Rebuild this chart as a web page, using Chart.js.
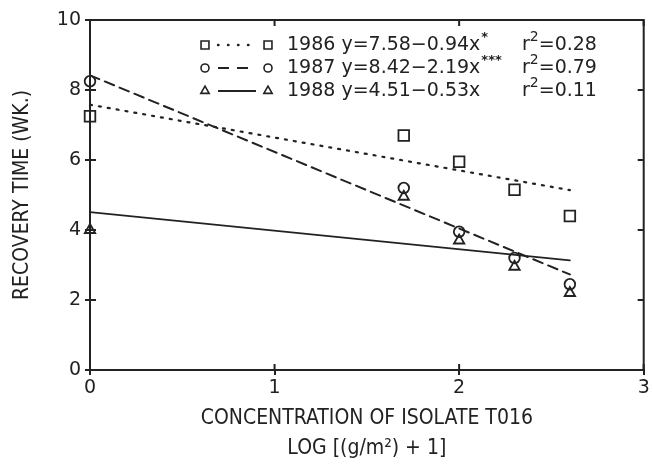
<!DOCTYPE html>
<html>
<head>
<meta charset="utf-8">
<script src="https://cdn.jsdelivr.net/npm/chart.js@4/dist/chart.umd.min.js"></script>
<style>
  body { margin: 0; background: #fff; }
  #grafico { display: block; }
</style>
</head>
<body>
<canvas id="grafico" width="653" height="468"></canvas>
<script>
// Datos
const concentraciones = [0, 1.7, 2.0, 2.3, 2.6];
const recuperacion1986 = [7.25, 6.7, 5.95, 5.15, 4.4];
const recuperacion1987 = [8.25, 5.2, 3.95, 3.2, 2.45];
const recuperacion1988 = [4.0, 4.95, 3.7, 2.95, 2.2];

// Rectas de regresion (extremos)
const extremosX = [0, 2.6];
const recta1986 = [7.58, 5.14];
const recta1987 = [8.42, 2.73];
const recta1988 = [4.51, 3.13];

const anios = ['1986', '1987', '1988'];
const ecuaciones = ['y=7.58\u22120.94x', 'y=8.42\u22122.19x', 'y=4.51\u22120.53x'];
const significancia = ['*', '***', ''];
const valoresR2 = ['=0.28', '=0.79', '=0.11'];
const simbolos = ['rect', 'circle', 'triangle'];
const estilosLinea = [[2, 7], [10, 6], []];
const estilosLeyenda = [[0.5, 9.5], [11, 8], []];

const ticksX = [0, 1, 2, 3];
const ticksY = [0, 2, 4, 6, 8, 10];

const TINTA = '#222';
const FUENTE = 'DejaVu Sans';
const FUENTE_TITULO = "'Liberation Sans Narrow', 'DejaVu Sans Condensed', sans-serif";

const puntos = (ys) => concentraciones.map((x, i) => ({ x: x, y: ys[i] }));
const recta = (ys) => extremosX.map((x, i) => ({ x: x, y: ys[i] }));

function serieMarcas(ys, simbolo, radio) {
    return {
        data: puntos(ys),
        showLine: false,
        clip: false,
        pointStyle: simbolo,
        pointRadius: radio,
        pointBorderWidth: 1.8,
        pointBorderColor: TINTA,
        pointBackgroundColor: 'rgba(0,0,0,0)'
    };
}

function serieRecta(ys, guiones, ancho) {
    return {
        data: recta(ys),
        showLine: true,
        pointRadius: 0,
        borderColor: TINTA,
        borderWidth: ancho,
        borderDash: guiones,
        borderCapStyle: 'round',
        fill: false
    };
}

// Marco con marcas hacia adentro
const marco = {
    id: 'marco',
    afterDatasetsDraw(chart) {
        const { ctx, chartArea: a, scales } = chart;
        ctx.save();
        ctx.strokeStyle = TINTA;
        ctx.lineWidth = 2;
        ctx.strokeRect(a.left, a.top, a.right - a.left, a.bottom - a.top);
        ctx.beginPath();
        ticksX.forEach(v => {
            const px = scales.x.getPixelForValue(v);
            ctx.moveTo(px, a.bottom); ctx.lineTo(px, a.bottom - 6);
            ctx.moveTo(px, a.top); ctx.lineTo(px, a.top + 6);
        });
        ticksY.forEach(v => {
            const py = scales.y.getPixelForValue(v);
            ctx.moveTo(a.left, py); ctx.lineTo(a.left + 6, py);
            ctx.moveTo(a.right, py); ctx.lineTo(a.right - 6, py);
        });
        ctx.stroke();
        ctx.restore();
    }
};

function dibujarSimbolo(ctx, simbolo, x, y, r) {
    ctx.save();
    ctx.fillStyle = 'rgba(0,0,0,0)';
    ctx.strokeStyle = TINTA;
    ctx.lineWidth = 1.6;
    Chart.helpers.drawPoint(ctx, { pointStyle: simbolo, rotation: 0, radius: r, borderWidth: 1.6 }, x, y);
    ctx.restore();
}

// Leyenda con ecuaciones
const leyenda = {
    id: 'leyendaEcuaciones',
    afterDraw(chart) {
        const { ctx, chartArea: a } = chart;
        const x0 = a.left + 115;
        const y0 = a.top + 25;
        const paso = 23;
        const radios = [5.6, 4, 4.8];
        ctx.save();
        ctx.strokeStyle = TINTA;
        ctx.fillStyle = TINTA;
        ctx.textBaseline = 'middle';
        anios.forEach((anio, i) => {
            const y = y0 + i * paso;
            dibujarSimbolo(ctx, simbolos[i], x0, y, radios[i]);
            dibujarSimbolo(ctx, simbolos[i], x0 + 63, y, radios[i]);
            ctx.beginPath();
            ctx.lineWidth = i === 0 ? 2.4 : 2;
            ctx.lineCap = i === 0 ? 'round' : 'butt';
            ctx.setLineDash(estilosLeyenda[i]);
            ctx.moveTo(x0 + 13, y);
            ctx.lineTo(x0 + 51, y);
            ctx.stroke();
            ctx.setLineDash([]);

            ctx.font = '19px ' + FUENTE;
            const texto = anio + ' ' + ecuaciones[i];
            ctx.fillText(texto, x0 + 82, y);
            const ancho = ctx.measureText(texto).width;
            ctx.font = 'bold 13px ' + FUENTE;
            ctx.fillText(significancia[i], x0 + 83 + ancho, y - 7);

            const xr = x0 + 317;
            ctx.font = '19px ' + FUENTE;
            ctx.fillText('r', xr, y);
            const anchoR = ctx.measureText('r').width;
            ctx.font = '14px ' + FUENTE;
            ctx.fillText('2', xr + anchoR, y - 8);
            const anchoDos = ctx.measureText('2').width;
            ctx.font = '19px ' + FUENTE;
            ctx.fillText(valoresR2[i], xr + anchoR + anchoDos, y);
        });
        ctx.restore();
    }
};

new Chart(document.getElementById('grafico'), {
    type: 'scatter',
    data: {
        datasets: [
            serieRecta(recta1986, estilosLinea[0], 2.2),
            serieRecta(recta1987, estilosLinea[1], 2),
            serieRecta(recta1988, estilosLinea[2], 1.8),
            serieMarcas(recuperacion1986, simbolos[0], 7.5),
            serieMarcas(recuperacion1987, simbolos[1], 5.3),
            serieMarcas(recuperacion1988, simbolos[2], 6)
        ]
    },
    options: {
        responsive: false,
        animation: false,
        devicePixelRatio: 1,
        layout: { padding: { top: 20, right: 7, left: 0, bottom: 0 } },
        plugins: {
            legend: { display: false },
            tooltip: { enabled: false }
        },
        scales: {
            x: {
                type: 'linear',
                min: 0,
                max: 3,
                afterBuildTicks: (escala) => { escala.ticks = ticksX.map(v => ({ value: v })); },
                afterFit: (escala) => { escala.height = 98; },
                border: { display: true, color: TINTA, width: 2 },
                grid: { drawOnChartArea: false, drawTicks: true, tickLength: 5, color: TINTA, lineWidth: 2 },
                ticks: { color: TINTA, padding: 2, font: { family: FUENTE, size: 19 } },
                title: {
                    display: true,
                    text: ['CONCENTRATION OF ISOLATE T016', 'LOG [(g/m\u00B2) + 1]'],
                    color: TINTA,
                    font: { family: FUENTE_TITULO, size: 21, lineHeight: 1.45 },
                    padding: { top: 4, bottom: 4 }
                }
            },
            y: {
                type: 'linear',
                min: 0,
                max: 10,
                afterBuildTicks: (escala) => { escala.ticks = ticksY.map(v => ({ value: v })); },
                afterFit: (escala) => { escala.width = 90; },
                border: { display: true, color: TINTA, width: 2 },
                grid: { drawOnChartArea: false, drawTicks: true, tickLength: 5, color: TINTA, lineWidth: 2 },
                ticks: { color: TINTA, padding: 4, font: { family: FUENTE, size: 19 } },
                title: {
                    display: true,
                    text: 'RECOVERY TIME (WK.)',
                    color: TINTA,
                    font: { family: FUENTE_TITULO, size: 21, lineHeight: 1.2 },
                    padding: { top: 10 }
                }
            }
        }
    },
    plugins: [marco, leyenda]
});
</script>
</body>
</html>
